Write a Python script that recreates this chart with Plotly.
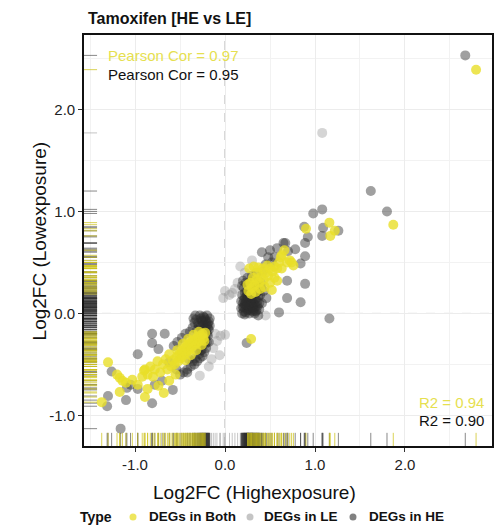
import plotly.graph_objects as go

# Log2 fold changes per gene, grouped by where the gene is differentially expressed
both_x = [-0.22, -0.25, -0.24, -0.27, -0.28, -0.30, -0.31, -0.33, -0.34, -0.36, -0.37, -0.39,
          -0.40, -0.42, -0.43, -0.45, -0.46, -0.48, -0.49, -0.51, -0.52, -0.54, -0.56, -0.58,
          -0.29, -0.35, -0.41, -0.26, -0.32, -0.38, -0.44, -0.23, -0.47, -0.53, -0.60, -0.62,
          -0.64, -0.66, -0.69, -0.72, -0.75, -0.78, -0.80, -0.83, -0.86, -0.89, -0.92, -0.90,
          -1.30, -1.17, -1.14, -1.03, -1.17, -1.37, -0.89, -0.86, -0.74, -0.62, -0.68, -0.55,
          -1.20, -1.10, -0.97,
          0.26, 0.30, 0.28, 0.33, 0.35, 0.31, 0.38, 0.40, 0.36, 0.43, 0.45, 0.42,
          0.48, 0.50, 0.47, 0.53, 0.55, 0.58, 0.60, 0.63, 0.63, 0.72, 0.74, 0.76,
          0.27, 0.32, 0.37, 0.25, 0.29, 0.34, 0.39, 0.44, 0.50, 0.55, 0.66, 0.62,
          0.69, 0.52, 0.58,
          0.90, 1.16, 1.17, 1.22, 1.87, 2.79, 0.29]
both_y = [-0.19, -0.20, -0.24, -0.22, -0.27, -0.23, -0.29, -0.25, -0.31, -0.27, -0.33, -0.29,
          -0.36, -0.31, -0.38, -0.34, -0.41, -0.37, -0.44, -0.40, -0.47, -0.43, -0.50, -0.46,
          -0.18, -0.21, -0.25, -0.31, -0.36, -0.41, -0.46, -0.27, -0.30, -0.36, -0.52, -0.40,
          -0.55, -0.45, -0.50, -0.58, -0.47, -0.55, -0.62, -0.52, -0.60, -0.55, -0.62, -0.56,
          -0.48, -0.63, -0.66, -0.65, -0.77, -0.87, -0.82, -0.74, -0.71, -0.66, -0.78, -0.60,
          -0.60, -0.68, -0.70,
          0.22, 0.25, 0.30, 0.28, 0.33, 0.35, 0.30, 0.36, 0.40, 0.33, 0.40, 0.44,
          0.37, 0.44, 0.47, 0.41, 0.46, 0.44, 0.50, 0.44, 0.57, 0.52, 0.50, 0.47,
          0.44, 0.46, 0.45, 0.28, 0.19, 0.21, 0.24, 0.26, 0.30, 0.35, 0.62, 0.55,
          0.50, 0.23, 0.32,
          0.83, 0.89, 0.76, 0.81, 0.87, 2.39, -0.25]

le_x = [1.08, 0.00, 0.11, 0.17, -0.11, -0.05, 0.00, -0.13, -0.06, -0.28, 0.05, 0.14,
        -0.09, 0.30, -0.15, 0.45, -0.02, 0.08, -0.18, 0.22]
le_y = [1.77, 0.22, 0.24, 0.46, -0.20, -0.22, -0.21, -0.34, -0.41, -0.61, 0.18, 0.30,
        -0.27, 0.52, -0.45, -0.02, 0.15, 0.20, -0.52, 0.40]

he_x = [0.18, 0.20, 0.21, 0.22, 0.23, 0.24, 0.25, 0.26, 0.27, 0.28, 0.29, 0.30,
        0.31, 0.32, 0.33, 0.34, 0.35, 0.36, 0.37, 0.38, 0.39, 0.40, 0.41, 0.19,
        0.21, 0.23, 0.25, 0.27, 0.29, 0.31, 0.33, 0.22, 0.24, 0.26, 0.28, 0.30,
        0.35, 0.42, 0.45, 0.48, 0.52, 0.65, 0.43, 0.46, 0.20, 0.19,
        0.19, 0.20, 0.21, 0.22, 0.23, 0.24, 0.25, 0.26, 0.27, 0.28, 0.29, 0.30,
        0.31, 0.32, 0.33, 0.34, 0.35, 0.36, 0.37, 0.38, 0.21, 0.23, 0.25, 0.27,
        0.29, 0.31, 0.24, 0.26, 0.28, 0.32, 0.36, 0.40, 0.18, 0.22, 0.26, 0.30,
        0.34, 0.38,
        0.89, 0.84, 1.16, 0.60, 0.69, 0.69, 0.78, 0.67, 0.58, 0.41, 0.70, 0.88,
        0.92, 0.89, 0.89, 0.84, 1.26, 1.08, 1.09, 0.98, 1.08, 1.62, 1.80, 2.67,
        0.24, 0.37, 0.50, 0.55,
        -0.17, -0.19, -0.18, -0.20, -0.21, -0.22, -0.23, -0.24, -0.25, -0.26, -0.27, -0.28,
        -0.30, -0.31, -0.33, -0.34, -0.36, -0.19, -0.20, -0.21, -0.23, -0.25, -0.28, -0.31,
        -0.34, -0.38, -0.42, -0.46, -0.50, -0.18, -0.39, -0.44, -0.48, -0.53, -0.57, -0.24,
        -0.27, -0.40, -0.54,
        -0.18, -0.20, -0.22, -0.24, -0.25, -0.27, -0.29, -0.21, -0.23, -0.26, -0.32, -0.35,
        -0.19, -0.17, -0.22, -0.26, -0.29, -0.33, -0.36, -0.30, -0.22, -0.20,
        -0.81, -0.81, -0.67, -0.97, -1.26, -1.09, -0.97, -1.30, -1.31, -1.10, -0.81, -0.70,
        -0.58, -0.42, -1.16, -1.05, -0.78, -0.62, -0.74]
he_y = [0.05, 0.10, 0.02, 0.15, 0.07, 0.20, 0.03, 0.12, 0.17, 0.06, 0.24, 0.10,
        0.02, 0.15, 0.28, 0.07, 0.20, 0.12, 0.32, 0.04, 0.18, 0.26, 0.10, 0.18,
        0.25, 0.30, 0.35, 0.00, 0.13, 0.20, 0.00, -0.01, 0.11, 0.26, 0.31, 0.37,
        0.40, 0.41, 0.48, 0.55, 0.50, 0.69, 0.22, 0.15, 0.32, 0.27,
        0.00, 0.06, 0.13, 0.20, 0.01, 0.08, 0.15, 0.04, 0.09, 0.14, 0.03, 0.06,
        0.11, 0.04, 0.09, 0.14, 0.03, 0.07, 0.16, 0.10, 0.06, 0.12, 0.08, 0.05,
        0.08, 0.06, 0.17, 0.21, 0.19, 0.24, 0.25, 0.30, 0.12, 0.09, 0.16, 0.15,
        0.02, 0.22,
        0.29, 0.11, -0.05, 0.01, 0.15, 0.32, 0.63, 0.69, 0.64, 0.60, 0.61, 0.85,
        0.75, 0.69, 0.56, 0.49, 0.81, 0.76, 0.84, 0.98, 1.02, 1.20, 1.00, 2.53,
        -0.29, -0.02, 0.62, 0.55,
        -0.05, -0.10, -0.16, -0.02, -0.08, -0.14, -0.04, -0.11, -0.16, -0.07, -0.13, -0.02,
        -0.10, -0.16, -0.02, -0.09, -0.14, -0.22, -0.28, -0.34, -0.38, -0.42, -0.44, -0.47,
        -0.50, -0.52, -0.55, -0.58, -0.60, -0.28, -0.18, -0.20, -0.24, -0.28, -0.32, -0.30,
        -0.36, -0.45, -0.55,
        -0.08, -0.12, -0.06, -0.03, -0.08, -0.05, -0.12, -0.18, -0.20, -0.19, -0.06, -0.05,
        -0.14, -0.12, -0.24, -0.36, -0.40, -0.44, -0.47, -0.35, -0.30, -0.20,
        -0.20, -0.29, -0.20, -0.40, -0.57, -0.73, -0.74, -0.81, -0.91, -0.85, -0.88, -0.66,
        -0.75, -0.58, -1.13, -0.70, -0.70, -0.48, -0.35]

groups = ["DEGs in Both", "DEGs in LE", "DEGs in HE"]
legend_title = "Type"
pearson_labels = ["Pearson Cor = 0.97", "Pearson Cor = 0.95"]
r2_labels = ["R2 = 0.94", "R2 = 0.90"]

x_tick_vals = [-1, 0, 1, 2]
x_tick_text = ["-1.0", "0.0", "1.0", "2.0"]
y_tick_vals = [-1, 0, 1, 2]
y_tick_text = ["-1.0", "0.0", "1.0", "2.0"]

X_RANGE = [-1.567, 2.967]
Y_RANGE = [-1.30, 2.73]

col_both = "rgba(232,222,40,0.80)"
col_le = "rgba(150,150,150,0.40)"
col_he = "rgba(45,45,45,0.45)"
rug_both = "rgba(205,195,30,0.75)"
rug_le = "rgba(150,150,150,0.55)"
rug_he = "rgba(40,40,40,0.55)"
key_both = "rgba(232,222,40,0.75)"
key_le = "rgba(150,150,150,0.55)"
key_he = "rgba(45,45,45,0.60)"

FONT = "Liberation Sans, Arial, sans-serif"

fig = go.Figure()

series = [
    (groups[1], le_x, le_y, col_le, rug_le),
    (groups[2], he_x, he_y, col_he, rug_he),
    (groups[0], both_x, both_y, col_both, rug_both),
]

# points (light grey first, then dark, yellow on top)
for name, xs, ys, col, _ in series:
    fig.add_trace(go.Scatter(
        x=xs, y=ys, mode="markers", name=name, showlegend=False,
        marker=dict(size=10, color=col, line=dict(width=0)),
        hoverinfo="x+y+name",
    ))

# rugs along the bottom and left edges
shapes = []
for name, xs, ys, col, rcol in series:
    for xv in xs:
        shapes.append(dict(type="line", xref="x", yref="y domain", x0=xv, x1=xv,
                           y0=0, y1=0.032, line=dict(color=rcol, width=1), layer="above"))
    for yv in ys:
        shapes.append(dict(type="line", xref="x domain", yref="y", x0=0, x1=0.032,
                           y0=yv, y1=yv, line=dict(color=rcol, width=1), layer="above"))

# reference lines at zero
shapes.append(dict(type="line", xref="x", yref="y domain", x0=0, x1=0, y0=0, y1=1,
                   line=dict(color="#b0b0b0", width=1, dash="dash"), layer="below"))
shapes.append(dict(type="line", xref="x domain", yref="y", x0=0, x1=1, y0=0, y1=0,
                   line=dict(color="#b0b0b0", width=1, dash="dash"), layer="below"))

annotations = [
    dict(text="Tamoxifen [HE vs LE]", xref="paper", yref="paper", x=0.005, y=1.041,
         xanchor="left", yanchor="middle", showarrow=False,
         font=dict(family=FONT, size=16, color="#111111", weight="bold")),
    dict(text=pearson_labels[0], xref="paper", yref="paper", x=0.054, y=0.951,
         xanchor="left", yanchor="middle", showarrow=False,
         font=dict(family=FONT, size=15, color="#e6df50")),
    dict(text=pearson_labels[1], xref="paper", yref="paper", x=0.054, y=0.903,
         xanchor="left", yanchor="middle", showarrow=False,
         font=dict(family=FONT, size=15, color="#111111")),
    dict(text=r2_labels[0], xref="paper", yref="paper", x=0.985, y=0.107,
         xanchor="right", yanchor="middle", showarrow=False,
         font=dict(family=FONT, size=15, color="#e6df50")),
    dict(text=r2_labels[1], xref="paper", yref="paper", x=0.985, y=0.061,
         xanchor="right", yanchor="middle", showarrow=False,
         font=dict(family=FONT, size=15, color="#111111")),
    dict(text="Log2FC (Highexposure)", xref="paper", yref="paper", x=0.419, y=-0.112,
         xanchor="center", yanchor="middle", showarrow=False,
         font=dict(family=FONT, size=19, color="#111111")),
    dict(text="Log2FC (Lowexposure)", xref="paper", yref="paper", x=-0.108, y=0.5,
         xanchor="center", yanchor="middle", showarrow=False, textangle=-90,
         font=dict(family=FONT, size=19, color="#111111")),
]

# key below the plot: title, then a dot and a label per group
KEY_Y = -0.1727
annotations.append(dict(text=legend_title, xref="paper", yref="paper", x=-0.0147, y=KEY_Y,
                        xanchor="left", yanchor="middle", showarrow=False,
                        font=dict(family=FONT, size=14, color="#111111", weight="bold")))
key_entries = [
    (groups[0], key_both, 0.1201, 0.1544),
    (groups[1], key_le, 0.4069, 0.4363),
    (groups[2], key_he, 0.6593, 0.6936),
]
for label, kcol, dot_x, text_x in key_entries:
    shapes.append(dict(type="circle", xref="paper", yref="paper",
                       xsizemode="pixel", ysizemode="pixel",
                       xanchor=dot_x, yanchor=KEY_Y, x0=-3.5, x1=3.5, y0=-3.5, y1=3.5,
                       fillcolor=kcol, line=dict(width=0)))
    annotations.append(dict(text=label, xref="paper", yref="paper", x=text_x, y=KEY_Y,
                            xanchor="left", yanchor="middle", showarrow=False,
                            font=dict(family=FONT, size=13.5, color="#111111", weight="bold")))

axis_common = dict(
    showline=True, mirror=True, linecolor="#111111", linewidth=1.6,
    ticks="outside", ticklen=4, tickcolor="#333333", tickwidth=1,
    showgrid=True, gridcolor="#ececec", gridwidth=1, zeroline=False,
    tickfont=dict(family=FONT, size=15, color="#222222"),
    minor=dict(dtick=0.5, tick0=0, showgrid=True, gridcolor="#f2f2f2", gridwidth=1, ticks=""),
)

fig.update_layout(
    width=503, height=531,
    margin=dict(l=84, r=11, t=35, b=85, autoexpand=False),
    paper_bgcolor="white", plot_bgcolor="white",
    xaxis=dict(range=X_RANGE, tickvals=x_tick_vals, ticktext=x_tick_text, **axis_common),
    yaxis=dict(range=Y_RANGE, tickvals=y_tick_vals, ticktext=y_tick_text, **axis_common),
    shapes=shapes, annotations=annotations,
    showlegend=False,
)

fig.write_html("out.html")
